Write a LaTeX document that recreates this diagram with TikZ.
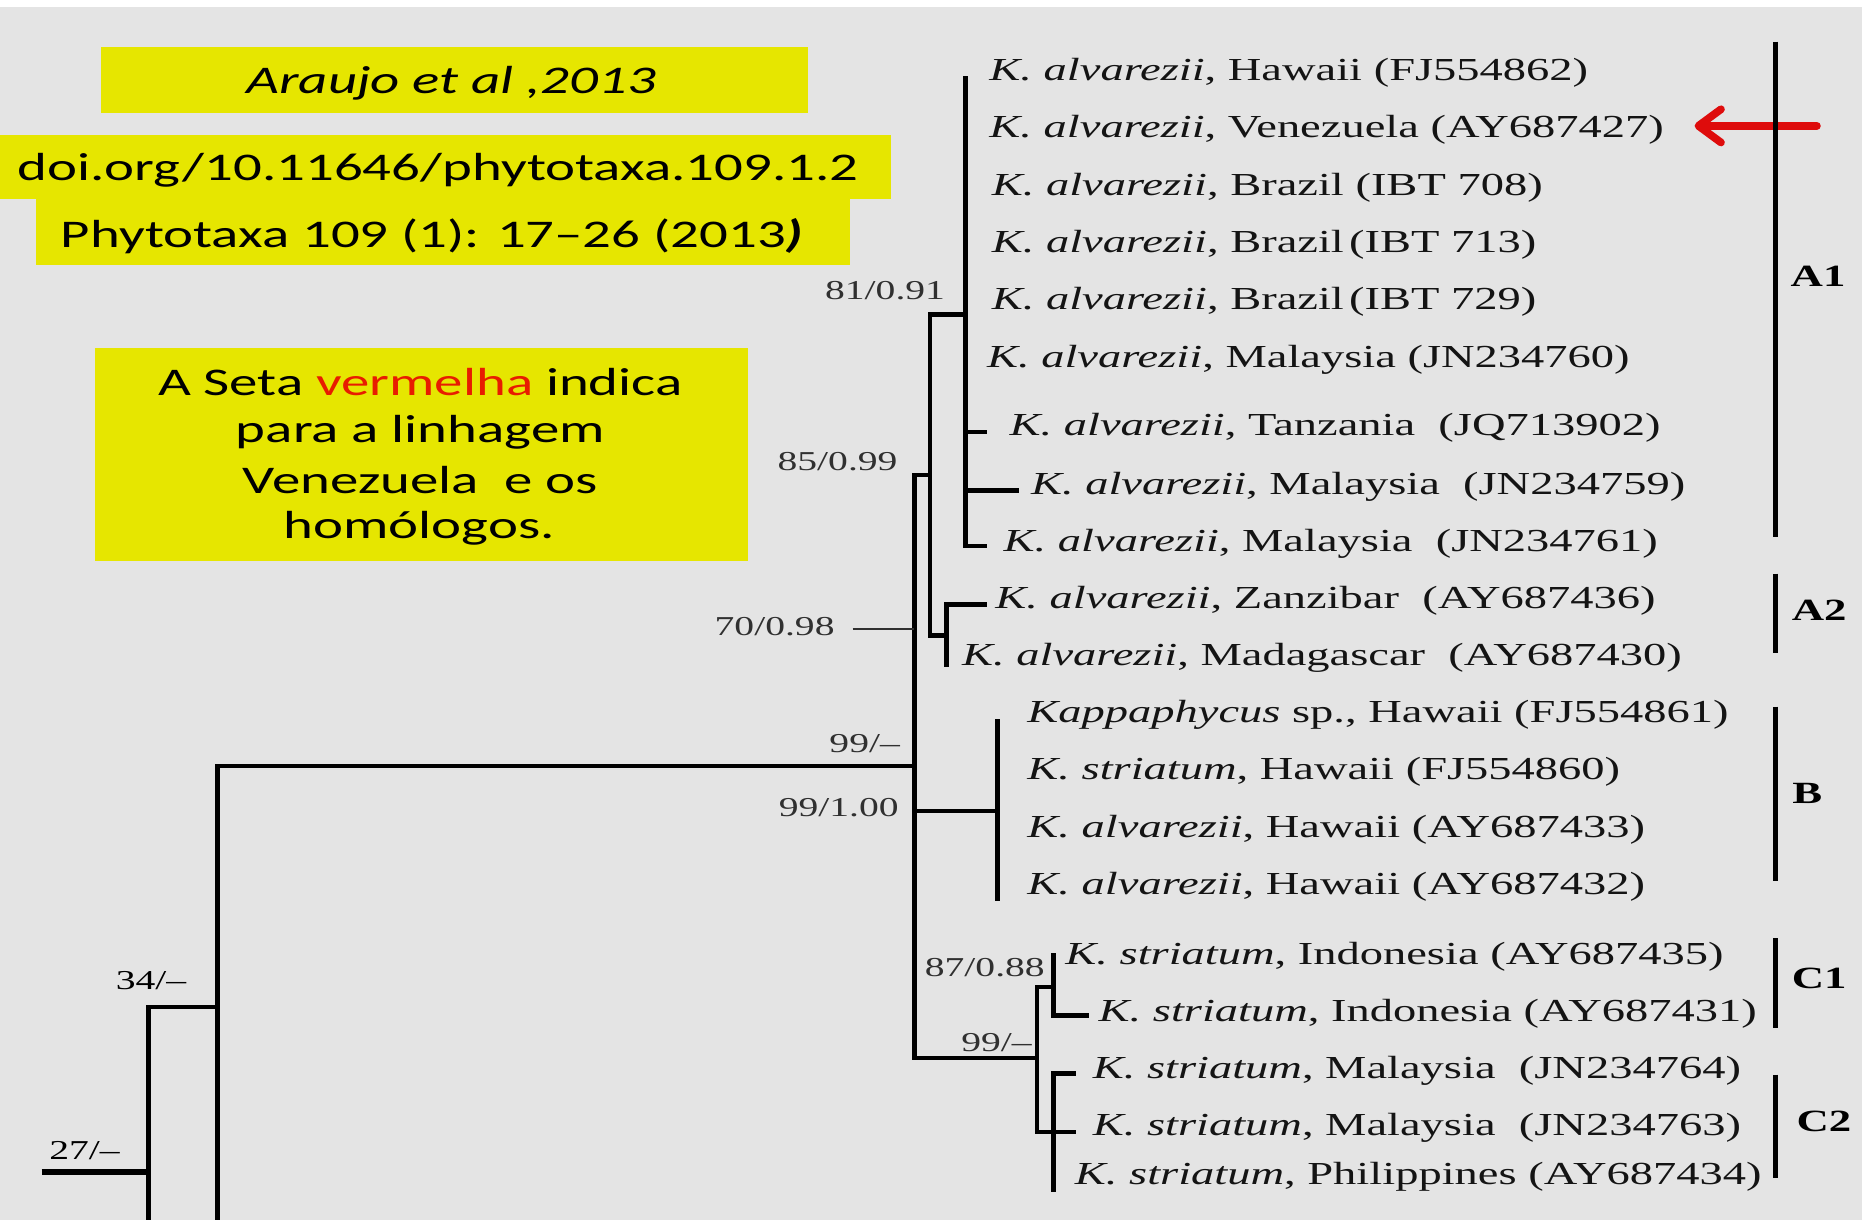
\documentclass[tikz,border=0pt]{standalone}
\usepackage{fontspec}
\setmainfont[FakeStretch=1.45]{Liberation Serif}
\newfontfamily\calfont[FakeStretch=1.45,Ligatures=TeX]{Carlito}
\usetikzlibrary{arrows.meta}
\definecolor{bggray}{RGB}{228,228,228}
\definecolor{hilite}{RGB}{230,230,0}
\definecolor{arrowred}{RGB}{222,12,12}
\definecolor{wordred}{RGB}{232,28,0}
\definecolor{inkgray}{RGB}{48,48,48}
\tikzset{
  branch/.style={line width=3.7pt, line join=miter, line cap=rect, black},
  stem/.style={line width=5.5pt, black},
  leader/.style={line width=1.8pt, inkgray},
  cladebar/.style={line width=3.8pt, black},
  taxon/.style={anchor=west, inner sep=0pt, text=black!92,
    font=\fontsize{27}{30}\selectfont},
  support/.style={anchor=east, inner sep=0pt, text=inkgray,
    font=\fontsize{23}{26}\selectfont},
  cladename/.style={inner sep=0pt, text=black,
    font=\fontsize{26}{28}\selectfont\bfseries},
  ybox/.style={fill=hilite, draw=none},
  boxtext/.style={inner sep=0pt, text=black,
    font=\calfont\fontsize{33}{40}\selectfont},
  pointer/.style={draw=arrowred, line width=6.5pt, line cap=round,
    -{Straight Barb[length=19pt, width=28pt, round]}},
}
\begin{document}
\begin{tikzpicture}[x=1pt,y=-1pt]
\useasboundingbox (0,0) rectangle (1568,1027);
% page background
\fill[bggray] (0,0) rectangle (1568,1027);
\fill[white] (0,0) rectangle (1568,6);

% ---- citation and note boxes ----
\path[ybox] (85,40) rectangle (680,95);
\path[ybox] (0,114) rectangle (750,168);
\path[ybox] (30,168) rectangle (716,223);
\path[ybox] (80,293) rectangle (630,472);
\node[boxtext, font=\calfont\itshape\fontsize{33}{40}\selectfont] (cite) at (380,70) {Araujo et al ,2013};
\node[boxtext] (doi) at (369,143) {doi.org/10.11646/phytotaxa.109.1.2};
\node[boxtext] (journal) at (364,199) {Phytotaxa 109 (1): 17–26 (2013\textbf{\textit{)}}};
\node[boxtext] (note1) at (354,322) {A Seta \textcolor{wordred}{vermelha} indica};
\node[boxtext] (note2) at (354,364) {para a linhagem};
\node[boxtext] (note3) at (354,404) {Venezuela\ \ e os};
\node[boxtext] (note4) at (353,445) {homólogos.};

% ---- tree: internal nodes ----
\coordinate (root) at (35,987);
\coordinate (n27) at (125,987);
\coordinate (n27low) at (125,1030);
\coordinate (n34) at (183,848);
\coordinate (n34low) at (183,1030);
\coordinate (n99) at (770,645);
\coordinate (n85) at (783,400);
\coordinate (n81) at (813,265);
\coordinate (a1top) at (813,66);
\coordinate (nA2) at (797,535);
\coordinate (a2bot) at (797,560);
\coordinate (nB) at (840,683);
\coordinate (btop) at (840,607);
\coordinate (bbot) at (840,757);
\coordinate (nC) at (873,891);
\coordinate (nC1) at (887,831);
\coordinate (c1top) at (887,804);
\coordinate (c2bot) at (887,1002);
% tip attachment points
\coordinate (e7) at (829,364);
\coordinate (e8) at (856,413);
\coordinate (e9) at (829,460);
\coordinate (e10) at (829,509);
\coordinate (e17) at (915,855);
\coordinate (e18) at (904,904);
\coordinate (e19) at (904,953);
\coordinate (e70) at (770,530);

% ---- tree: branches ----
\draw[stem] (root) -- (n27);
\draw[branch] (n27low) |- (n34);
\draw[branch] (n34low) |- (n99);
\draw[branch] (n85) -| (n99) |- (nC);
\draw[branch] (n99) |- (nB);
\draw[branch] (n81) -| (n85) |- (nA2);
\draw[branch] (a1top) -- (n81) |- (e9);
\draw[branch] (n81 |- e7) -- (e7);
\draw[branch] (n81 |- e8) -- (e8);
\draw[branch] (e10) -| (nA2) -- (a2bot);
\draw[branch] (btop) -- (bbot);
\draw[branch] (nC1) -| (nC) |- (e19);
\draw[branch] (c1top) -- (nC1) |- (e17);
\draw[branch] (e18) -| (c2bot);

% ---- support values ----
\node[support] (s81) at (796,245) {81/0.91};
\node[support] (s85) at (756,389) {85/0.99};
\node[support] (s70) at (703,528) {70/0.98};
\draw[leader] ([xshift=15pt]s70.east |- e70) -- (e70);
\node[support] (s99a) at (758,626) {99/--};
\node[support] (s99b) at (757,680) {99/1.00};
\node[support] (s87) at (880,815) {87/0.88};
\node[support] (s99c) at (869,878) {99/--};
\node[support, text=black] (s34) at (157,826) {34/--};
\node[support, text=black] (s27) at (101,969) {27/--};

% ---- taxa ----
\node[taxon] (t1) at (833,61) {\textit{K. alvarezii}, Hawaii (FJ554862)};
\node[taxon] (t2) at (833,109) {\textit{K. alvarezii}, Venezuela (AY687427)};
\node[taxon] (t3) at (835,158) {\textit{K. alvarezii}, Brazil (IBT 708)};
\node[taxon] (t4) at (835,206) {\textit{K. alvarezii}, Brazil\,(IBT 713)};
\node[taxon] (t5) at (835,254) {\textit{K. alvarezii}, Brazil\,(IBT 729)};
\node[taxon] (t6) at (831,303) {\textit{K. alvarezii}, Malaysia (JN234760)};
\node[taxon] (t7) at (850,360) {\textit{K. alvarezii}, Tanzania\ \ (JQ713902)};
\node[taxon] (t8) at (868,410) {\textit{K. alvarezii}, Malaysia\ \ (JN234759)};
\node[taxon] (t9) at (845,458) {\textit{K. alvarezii}, Malaysia\ \ (JN234761)};
\node[taxon] (t10) at (838,506) {\textit{K. alvarezii}, Zanzibar\ \ (AY687436)};
\node[taxon] (t11) at (810,554) {\textit{K. alvarezii}, Madagascar\ \ (AY687430)};
\node[taxon] (t12) at (865,602) {\textit{Kappaphycus} sp., Hawaii (FJ554861)};
\node[taxon] (t13) at (865,650) {\textit{K. striatum}, Hawaii (FJ554860)};
\node[taxon] (t14) at (865,699) {\textit{K. alvarezii}, Hawaii (AY687433)};
\node[taxon] (t15) at (865,747) {\textit{K. alvarezii}, Hawaii (AY687432)};
\node[taxon] (t16) at (897,806) {\textit{K. striatum}, Indonesia (AY687435)};
\node[taxon] (t17) at (925,854) {\textit{K. striatum}, Indonesia (AY687431)};
\node[taxon] (t18) at (920,902) {\textit{K. striatum}, Malaysia\ \ (JN234764)};
\node[taxon] (t19) at (920,950) {\textit{K. striatum}, Malaysia\ \ (JN234763)};
\node[taxon] (t20) at (905,991) {\textit{K. striatum}, Philippines (AY687434)};

% ---- pointer to the Venezuela sequence ----
\coordinate (ptail) at (1530,106);
\coordinate (phead) at (1427,106);
\draw[pointer] (ptail) -- (phead);

% ---- clade bars ----
\coordinate (A1a) at (1495,35);  \coordinate (A1b) at (1495,452);
\coordinate (A2a) at (1495,483); \coordinate (A2b) at (1495,550);
\coordinate (Ba) at (1495,595);  \coordinate (Bb) at (1495,742);
\coordinate (C1a) at (1495,790); \coordinate (C1b) at (1495,866);
\coordinate (C2a) at (1495,905); \coordinate (C2b) at (1495,992);
\draw[cladebar] (A1a) -- (A1b);
\draw[cladebar] (A2a) -- (A2b);
\draw[cladebar] (Ba) -- (Bb);
\draw[cladebar] (C1a) -- (C1b);
\draw[cladebar] (C2a) -- (C2b);
\node[cladename] (gA1) at (1531,233) {A1};
\node[cladename] (gA2) at (1532,514) {A2};
\node[cladename] (gB) at (1522,668) {B};
\node[cladename] (gC1) at (1532,824) {C1};
\node[cladename] (gC2) at (1536,944) {C2};
\end{tikzpicture}
\end{document}
